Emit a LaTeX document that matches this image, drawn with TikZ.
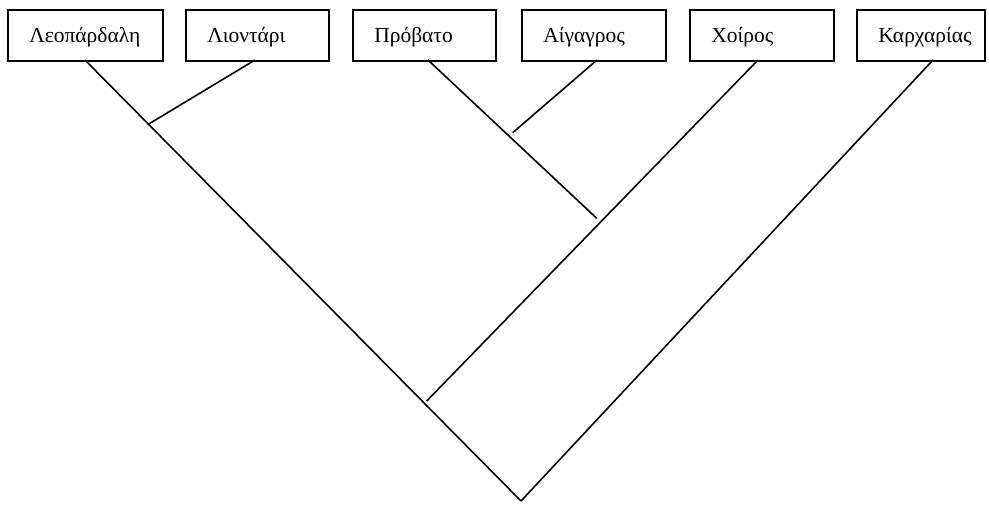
\documentclass[tikz,border=0pt]{standalone}
\usepackage{fontspec}
\setmainfont{Liberation Serif}
\begin{document}
\begin{tikzpicture}[x=1pt,y=-1pt,
  taxon/.style={draw=black, line width=1.5pt, minimum height=51pt, inner xsep=0pt, inner ysep=0pt,
    align=left, text height=18pt, text depth=4pt, font=\fontsize{21.5}{24}\selectfont, anchor=north west,
    execute at begin node={\hspace*{21.5pt}}},
  branch/.style={draw=black, line width=1.6pt}]
\useasboundingbox (0,0) rectangle (989,504);
\node[taxon, text width=155pt] (b1) at (7,9) {Λεοπάρδαλη};
\node[taxon, text width=143pt] (b2) at (185,9) {Λιοντάρι};
\node[taxon, text width=143pt] (b3) at (352,9) {Πρόβατο};
\node[taxon, text width=144pt] (b4) at (521,9) {Αίγαγρος};
\node[taxon, text width=144pt] (b5) at (689,9) {Χοίρος};
\node[taxon, text width=128pt] (b6) at (856,9) {Καρχαρίας};
\coordinate (t1) at (85,60);
\coordinate (t2) at (255,60);
\coordinate (t3) at (428,60);
\coordinate (t4) at (597,60);
\coordinate (t5) at (758,60);
\coordinate (t6) at (933,60);
\coordinate (j1) at (148.3,124.3);
\coordinate (j2) at (512.7,132.7);
\coordinate (j3) at (596.7,218.3);
\coordinate (j4) at (426.7,401);
\coordinate (root) at (521,501);
\draw[branch] (t1) -- (root);
\draw[branch] (t2) -- (j1);
\draw[branch] (t3) -- (j3);
\draw[branch] (t4) -- (j2);
\draw[branch] (t5) -- (j4);
\draw[branch] (t6) -- (root);
\end{tikzpicture}
\end{document}
